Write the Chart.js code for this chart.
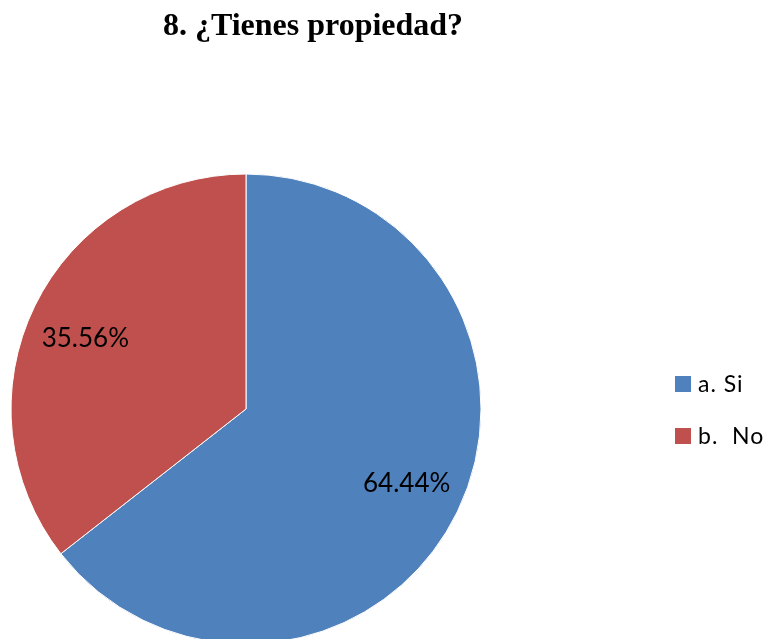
<!DOCTYPE html>
<html>
<head>
<meta charset="utf-8">
<script src="https://cdn.jsdelivr.net/npm/chart.js@4/dist/chart.umd.min.js"></script>
<style>
  html, body { margin: 0; padding: 0; background: #fff; }
  #wrap { width: 773px; height: 639px; position: relative; }
</style>
</head>
<body>
<div id="wrap"><canvas id="pieChart" width="773" height="639"></canvas></div>
<script>
// =========================
// DATA
// =========================
const chartTitle = "8. ¿Tienes propiedad?";
const categories = ["a. Si", "b.  No"];
const percentages = [64.44, 35.56];
const sliceColors = ["#4F81BD", "#C0504D"];


// =========================
// TITLE, LEGEND AND LABELS (drawn by hand)
// =========================
const extrasPlugin = {
  id: "extras",
  afterDatasetsDraw(chart) {
    const ctx = chart.ctx;
    ctx.save();

    // slice labels, at 3/4 of the radius, a bit past each slice's middle angle
    ctx.font = "26px Lato";
    ctx.fillStyle = "#000";
    ctx.textAlign = "center";
    ctx.textBaseline = "middle";
    chart.getDatasetMeta(0).data.forEach((arc, i) => {
      const p = arc.getProps(["x", "y", "startAngle", "endAngle", "outerRadius"], true);
      const mid = (p.startAngle + p.endAngle) / 2 - 0.03;
      const r = p.outerRadius * 0.75;
      ctx.fillText(percentages[i].toFixed(2) + "%", p.x + Math.cos(mid) * r, p.y + Math.sin(mid) * r + 2);
    });

    // title
    ctx.font = "bold 32px 'Liberation Serif'";
    ctx.textBaseline = "alphabetic";
    ctx.fillText(chartTitle, 313, 35);

    // legend
    ctx.font = "23px Lato";
    ctx.letterSpacing = "1px";
    ctx.textAlign = "left";
    ctx.textBaseline = "middle";
    categories.forEach((label, i) => {
      const y = 384 + i * 52;
      ctx.fillStyle = sliceColors[i];
      ctx.fillRect(675, y - 8, 16, 16);
      ctx.fillStyle = "#000";
      ctx.fillText(label, 698, y + 1);
    });

    ctx.restore();
  }
};


// =========================
// PIE CHART
// =========================
const ctx = document.getElementById("pieChart").getContext("2d");

new Chart(ctx, {
  type: "pie",
  data: {
    labels: categories,
    datasets: [{
      data: percentages,
      backgroundColor: sliceColors,
      borderColor: "#ffffff",
      borderWidth: 1,
      radius: 235,
      clip: false
    }]
  },
  options: {
    responsive: false,
    animation: false,
    layout: {
      padding: { left: 0, right: 281, top: 179, bottom: 0 }
    },
    plugins: {
      legend: { display: false },
      title: { display: false },
      tooltip: { enabled: false }
    }
  },
  plugins: [extrasPlugin]
});
</script>
</body>
</html>
